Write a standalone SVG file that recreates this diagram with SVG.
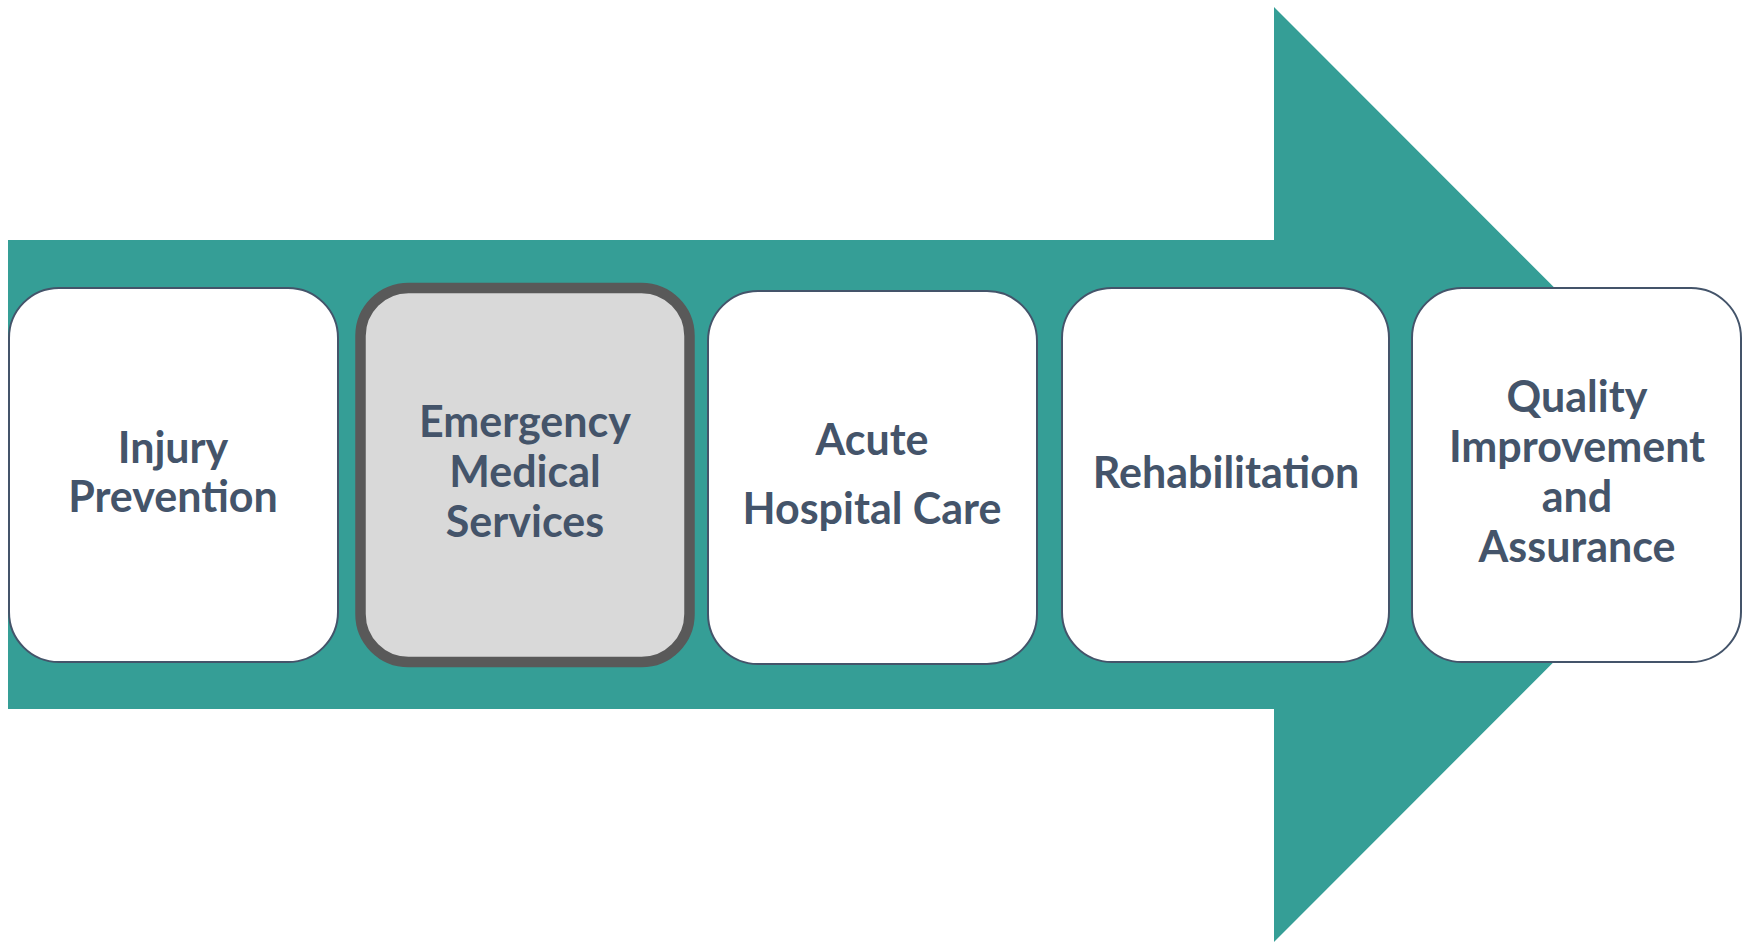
<svg xmlns="http://www.w3.org/2000/svg" width="1747" height="943" viewBox="0 0 1747 943">
<style>
.box{fill:#FFFFFF;stroke:#44546A;stroke-width:2}
.sel{fill:#D9D9D9;stroke:#595959;stroke-width:10.5}
.t{font-family:Lato,"Open Sans",sans-serif;font-weight:700;font-size:43px;fill:#44546A;text-anchor:middle}
</style>
<rect width="1747" height="943" fill="#FFFFFF"/>
<g id="arrow">
<polygon points="8,240 1274,240 1274,7 1741,474.5 1274,942 1274,709 8,709" fill="#359E96"/>
</g>
<g id="connectors"></g>
<g id="n1">
<rect class="box" x="9" y="288" width="329" height="374" rx="50" ry="50"/>
<text class="t" x="173" y="463">Injury</text>
<text class="t" x="173" y="512">Prevention</text>
</g>
<g id="n2">
<rect class="sel" x="360.5" y="288" width="329" height="374" rx="48" ry="48"/>
<text class="t" x="525" y="437">Emergency</text>
<text class="t" x="525" y="487">Medical</text>
<text class="t" x="525" y="537">Services</text>
</g>
<g id="n3">
<rect class="box" x="708" y="291" width="329" height="373" rx="50" ry="50"/>
<text class="t" x="872" y="455">Acute</text>
<text class="t" x="872" y="524">Hospital Care</text>
</g>
<g id="n4">
<rect class="box" x="1062" y="288" width="327" height="374" rx="50" ry="50"/>
<text class="t" x="1226" y="488">Rehabilitation</text>
</g>
<g id="n5">
<rect class="box" x="1412" y="288" width="329" height="374" rx="50" ry="50"/>
<text class="t" x="1577" y="412">Quality</text>
<text class="t" x="1577" y="462">Improvement</text>
<text class="t" x="1577" y="512">and</text>
<text class="t" x="1577" y="562">Assurance</text>
</g>
</svg>
